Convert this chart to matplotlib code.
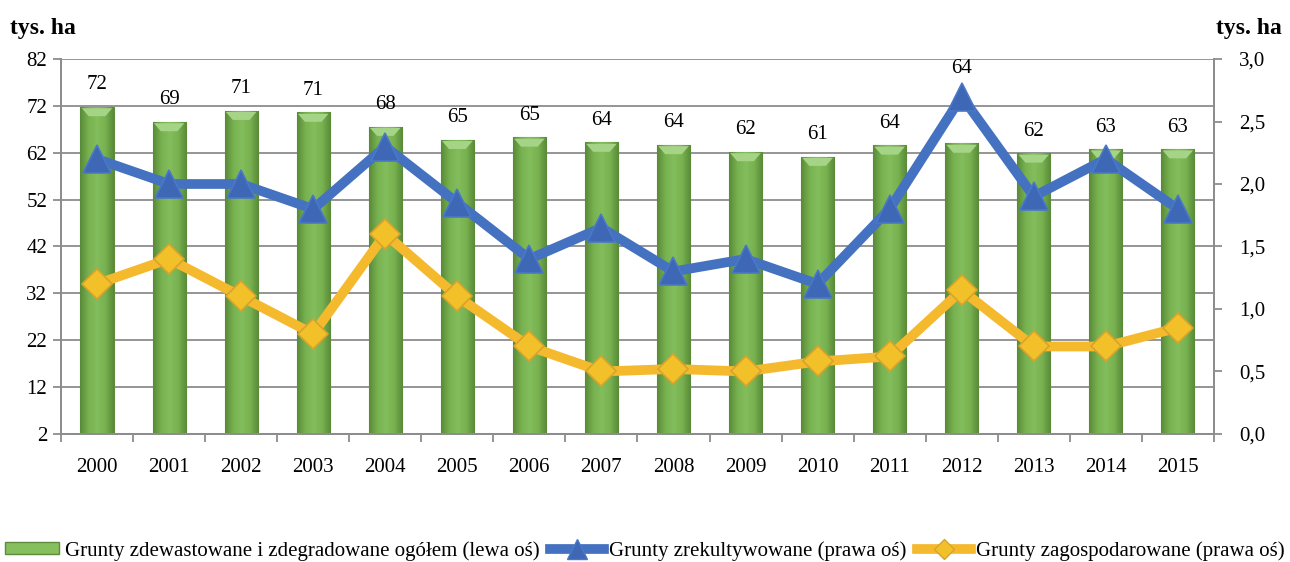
import matplotlib
matplotlib.use("Agg")
import matplotlib.pyplot as plt
import numpy as np
from matplotlib.colors import LinearSegmentedColormap
from matplotlib.patches import Patch
from matplotlib.lines import Line2D

years = ["2000", "2001", "2002", "2003", "2004", "2005", "2006", "2007",
         "2008", "2009", "2010", "2011", "2012", "2013", "2014", "2015"]
zdewastowane = [71.8, 68.6, 71.0, 70.6, 67.6, 64.8, 65.3, 64.2,
                63.7, 62.2, 61.2, 63.6, 64.0, 61.9, 62.8, 62.8]
zrekultywowane = [2.2, 2.0, 2.0, 1.8, 2.3, 1.85, 1.4, 1.65,
                  1.3, 1.4, 1.2, 1.8, 2.7, 1.9, 2.2, 1.8]
zagospodarowane = [1.2, 1.4, 1.1, 0.8, 1.6, 1.1, 0.7, 0.5,
                   0.52, 0.5, 0.58, 0.62, 1.15, 0.7, 0.7, 0.85]
left_ticks = [2, 12, 22, 32, 42, 52, 62, 72, 82]
right_ticks = [0.0, 0.5, 1.0, 1.5, 2.0, 2.5, 3.0]
right_labels = ["0,0", "0,5", "1,0", "1,5", "2,0", "2,5", "3,0"]
series_labels = ["Grunty zdewastowane i zdegradowane ogółem (lewa oś)",
                 "Grunty zrekultywowane (prawa oś)",
                 "Grunty zagospodarowane (prawa oś)"]

plt.rcParams['font.family'] = ['Liberation Serif', 'DejaVu Serif']
FS = 15

fig = plt.figure(figsize=(12.9, 5.62), dpi=100)
ax = fig.add_axes([0.0473, 0.2278, 0.8937, 0.6672])
ax2 = ax.twinx()

x = np.arange(len(years))
grid_c = "#8C8C8C"

ax.yaxis.grid(True, color=grid_c, linewidth=1.3)
ax.set_axisbelow(True)

bars = ax.bar(x, [v - 2 for v in zdewastowane], bottom=2, width=0.46,
              color="#77AE52", edgecolor="#5E8C3C", linewidth=0.8, zorder=2)

cmap = LinearSegmentedColormap.from_list(
    "g", ["#5A8A38", "#78B250", "#84BE5C", "#78B250", "#5A8A38"])
grad = np.linspace(0, 1, 64).reshape(1, -1)
for b in bars:
    x0, w, h = b.get_x(), b.get_width(), b.get_height()
    y0 = b.get_y()
    im = ax.imshow(grad, cmap=cmap, aspect="auto",
                   extent=(x0, x0 + w, y0, y0 + h), zorder=2.1)
    im.set_clip_path(b)
    ax.fill([x0 + 0.04 * w, x0 + 0.96 * w, x0 + 0.75 * w, x0 + 0.25 * w],
            [y0 + h - 0.3, y0 + h - 0.3, y0 + h - 2.0, y0 + h - 2.0],
            color="#A6D486", zorder=2.2, linewidth=0)
ax.set_xlim(-0.5, len(years) - 0.5)
ax.set_ylim(2, 82)
ax.set_yticks(left_ticks)

for i, v in enumerate(zdewastowane):
    off = 9 if years[i] != "2012" else 47
    ax.annotate(f"{v:.0f}", (x[i], v), xytext=(0, off), textcoords="offset points",
                ha="center", va="bottom", fontsize=FS, zorder=5)

ax2.set_ylim(0, 3.0)
ax2.set_yticks(right_ticks)
ax2.set_yticklabels(right_labels)

ax2.plot(x, zagospodarowane, color="#F5B92E", linewidth=7, zorder=3,
         marker="D", markersize=15, markerfacecolor="#F2C12A",
         markeredgecolor="#D9A22A", markeredgewidth=1.2)
ax2.plot(x, zrekultywowane, color="#4471C0", linewidth=7, zorder=4,
         marker="^", markersize=20, markerfacecolor="#3E67B5",
         markeredgecolor="#4A78C8", markeredgewidth=1.2)

ax.set_xticks(x)
ax.set_xticklabels(years)
ax.set_xticks(np.arange(-0.5, len(years), 1), minor=True)
ax.tick_params(axis="x", which="major", length=0, pad=17, labelsize=FS)
ax.tick_params(axis="x", which="minor", length=6, color=grid_c, width=1.3)
ax.tick_params(axis="y", length=6, color=grid_c, width=1.3, labelsize=FS, pad=4)
ax2.tick_params(axis="y", length=6, color=grid_c, width=1.3, labelsize=FS, pad=12)

for a in (ax, ax2):
    a.spines["top"].set_visible(False)
    for s in ("left", "right", "bottom"):
        a.spines[s].set_color(grid_c)
        a.spines[s].set_linewidth(1.3)

fig.text(0.008, 0.95, "tys. ha", fontsize=FS + 2, fontweight="bold", ha="left", va="center")
fig.text(0.994, 0.95, "tys. ha", fontsize=FS + 2, fontweight="bold", ha="right", va="center")

handles = [
    Patch(facecolor="#86BF5E", edgecolor="#5E8C3C"),
    Line2D([0], [0], color="#4471C0", linewidth=7, marker="^", markersize=14,
           markerfacecolor="#3E67B5", markeredgecolor="#4A78C8"),
    Line2D([0], [0], color="#F5B92E", linewidth=7, marker="D", markersize=10,
           markerfacecolor="#F2C12A", markeredgecolor="#D9A22A"),
]
fig.legend(handles, series_labels, loc="center", bbox_to_anchor=(0.5, 0.02),
           ncol=3, frameon=False, fontsize=FS, handlelength=2.6, handleheight=0.5,
           handletextpad=0.25, columnspacing=0.5, borderaxespad=0, borderpad=0)

fig.savefig("out.png", dpi=100)
